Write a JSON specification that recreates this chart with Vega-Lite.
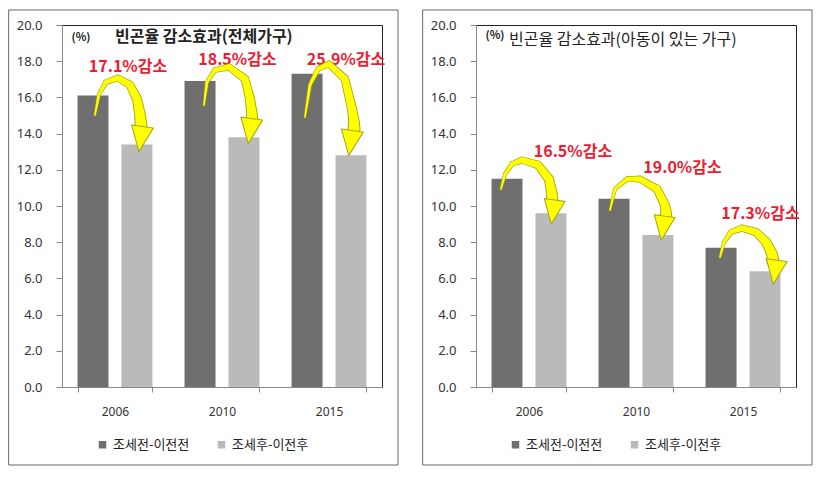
{
  "$schema": "https://vega.github.io/schema/vega-lite/v6.json",
  "padding": {"left": 7, "top": 8, "right": 5, "bottom": 5},
  "background": "white",
  "config": {
    "view": {"stroke": "#222222", "strokeWidth": 1},
    "font": "Noto Sans CJK KR"
  },
  "datasets": {
    "bars": [
      {"panel": "L", "year": "2006", "series": "조세전-이전전", "v": 16.1},
      {"panel": "L", "year": "2006", "series": "조세후-이전후", "v": 13.4},
      {"panel": "L", "year": "2010", "series": "조세전-이전전", "v": 16.9},
      {"panel": "L", "year": "2010", "series": "조세후-이전후", "v": 13.8},
      {"panel": "L", "year": "2015", "series": "조세전-이전전", "v": 17.3},
      {"panel": "L", "year": "2015", "series": "조세후-이전후", "v": 12.8},
      {"panel": "R", "year": "2006", "series": "조세전-이전전", "v": 11.5},
      {"panel": "R", "year": "2006", "series": "조세후-이전후", "v": 9.6},
      {"panel": "R", "year": "2010", "series": "조세전-이전전", "v": 10.4},
      {"panel": "R", "year": "2010", "series": "조세후-이전후", "v": 8.4},
      {"panel": "R", "year": "2015", "series": "조세전-이전전", "v": 7.7},
      {"panel": "R", "year": "2015", "series": "조세후-이전후", "v": 6.4}
    ],
    "arrows": [
      {"panel": "L", "year": "2006", "t": 1, "ax": 0.309, "ay": 15.03},
      {"panel": "L", "year": "2006", "t": 2, "ax": 0.347, "ay": 16.19},
      {"panel": "L", "year": "2006", "t": 3, "ax": 0.4125, "ay": 16.85},
      {"panel": "L", "year": "2006", "t": 4, "ax": 0.525, "ay": 17.07},
      {"panel": "L", "year": "2006", "t": 5, "ax": 0.6375, "ay": 16.69},
      {"panel": "L", "year": "2006", "t": 6, "ax": 0.703, "ay": 15.91},
      {"panel": "L", "year": "2006", "t": 7, "ax": 0.731, "ay": 15.08},
      {"panel": "L", "year": "2006", "t": 8, "ax": 0.741, "ay": 14.42},
      {"panel": "L", "year": "2010", "t": 1, "ax": 1.331, "ay": 15.58},
      {"panel": "L", "year": "2010", "t": 2, "ax": 1.359, "ay": 16.85},
      {"panel": "L", "year": "2010", "t": 3, "ax": 1.434, "ay": 17.51},
      {"panel": "L", "year": "2010", "t": 4, "ax": 1.566, "ay": 17.68},
      {"panel": "L", "year": "2010", "t": 5, "ax": 1.716, "ay": 17.02},
      {"panel": "L", "year": "2010", "t": 6, "ax": 1.7625, "ay": 15.91},
      {"panel": "L", "year": "2010", "t": 7, "ax": 1.781, "ay": 15.08},
      {"panel": "L", "year": "2010", "t": 8, "ax": 1.781, "ay": 14.75},
      {"panel": "L", "year": "2015", "t": 1, "ax": 2.278, "ay": 14.92},
      {"panel": "L", "year": "2015", "t": 2, "ax": 2.325, "ay": 16.69},
      {"panel": "L", "year": "2015", "t": 3, "ax": 2.4, "ay": 17.57},
      {"panel": "L", "year": "2015", "t": 4, "ax": 2.503, "ay": 17.85},
      {"panel": "L", "year": "2015", "t": 5, "ax": 2.653, "ay": 17.02},
      {"panel": "L", "year": "2015", "t": 6, "ax": 2.719, "ay": 15.36},
      {"panel": "L", "year": "2015", "t": 7, "ax": 2.738, "ay": 14.64},
      {"panel": "L", "year": "2015", "t": 8, "ax": 2.738, "ay": 14.25},
      {"panel": "R", "year": "2006", "t": 1, "ax": 0.234, "ay": 10.94},
      {"panel": "R", "year": "2006", "t": 2, "ax": 0.272, "ay": 11.77},
      {"panel": "R", "year": "2006", "t": 3, "ax": 0.3375, "ay": 12.32},
      {"panel": "R", "year": "2006", "t": 4, "ax": 0.431, "ay": 12.54},
      {"panel": "R", "year": "2006", "t": 5, "ax": 0.581, "ay": 12.27},
      {"panel": "R", "year": "2006", "t": 6, "ax": 0.684, "ay": 11.49},
      {"panel": "R", "year": "2006", "t": 7, "ax": 0.7125, "ay": 10.66},
      {"panel": "R", "year": "2006", "t": 8, "ax": 0.7125, "ay": 10.28},
      {"panel": "R", "year": "2010", "t": 1, "ax": 1.256, "ay": 9.78},
      {"panel": "R", "year": "2010", "t": 2, "ax": 1.303, "ay": 10.94},
      {"panel": "R", "year": "2010", "t": 3, "ax": 1.416, "ay": 11.49},
      {"panel": "R", "year": "2010", "t": 4, "ax": 1.5375, "ay": 11.49},
      {"panel": "R", "year": "2010", "t": 5, "ax": 1.697, "ay": 10.94},
      {"panel": "R", "year": "2010", "t": 6, "ax": 1.772, "ay": 10.06},
      {"panel": "R", "year": "2010", "t": 7, "ax": 1.781, "ay": 9.67},
      {"panel": "R", "year": "2010", "t": 8, "ax": 1.781, "ay": 9.34},
      {"panel": "R", "year": "2015", "t": 1, "ax": 2.2875, "ay": 7.18},
      {"panel": "R", "year": "2015", "t": 2, "ax": 2.325, "ay": 8.01},
      {"panel": "R", "year": "2015", "t": 3, "ax": 2.39, "ay": 8.56},
      {"panel": "R", "year": "2015", "t": 4, "ax": 2.494, "ay": 8.78},
      {"panel": "R", "year": "2015", "t": 5, "ax": 2.625, "ay": 8.56},
      {"panel": "R", "year": "2015", "t": 6, "ax": 2.72, "ay": 8.01},
      {"panel": "R", "year": "2015", "t": 7, "ax": 2.775, "ay": 7.35},
      {"panel": "R", "year": "2015", "t": 8, "ax": 2.784, "ay": 6.96}
    ],
    "heads": [
      {"panel": "L", "year": "2006", "ax": 0.738, "ay": 13.7},
      {"panel": "L", "year": "2010", "ax": 1.7625, "ay": 14.14},
      {"panel": "L", "year": "2015", "ax": 2.705, "ay": 13.48},
      {"panel": "R", "year": "2006", "ax": 0.722, "ay": 9.67},
      {"panel": "R", "year": "2010", "ax": 1.753, "ay": 8.78},
      {"panel": "R", "year": "2015", "ax": 2.803, "ay": 6.35}
    ],
    "labels": [
      {"panel": "L", "year": "2006", "label": "17.1%감소", "ax": 0.619, "ay": 17.7},
      {"panel": "L", "year": "2010", "label": "18.5%감소", "ax": 1.645, "ay": 18.05},
      {"panel": "L", "year": "2015", "label": "25.9%감소", "ax": 2.663, "ay": 18.05},
      {"panel": "R", "year": "2006", "label": "16.5%감소", "ax": 0.909, "ay": 12.98},
      {"panel": "R", "year": "2010", "label": "19.0%감소", "ax": 1.936, "ay": 12.1},
      {"panel": "R", "year": "2015", "label": "17.3%감소", "ax": 2.667, "ay": 9.56}
    ]
  },
  "hconcat": [
    {
      "width": 320,
      "height": 362,
      "layer": [
        {
          "data": {"name": "bars"},
          "transform": [{"filter": "datum.panel === 'L'"}],
          "mark": {"type": "bar"},
          "encoding": {
            "x": {"field": "year", "type": "nominal", "scale": {"paddingInner": 0.3, "paddingOuter": 0.145},
              "axis": {"title": null, "labelAngle": 0, "tickBand": "extent", "ticks": true, "tickSize": 5, "tickColor": "#888888", "domainColor": "#888888", "labelPadding": 14, "labelFontSize": 12, "labelColor": "#333333", "labelFont": "Noto Sans"}},
            "xOffset": {"field": "series", "type": "nominal", "scale": {"paddingInner": 0.295, "paddingOuter": 0}},
            "y": {"field": "v", "type": "quantitative", "scale": {"domain": [0, 20], "nice": false},
              "axis": {"title": null, "values": [0, 2, 4, 6, 8, 10, 12, 14, 16, 18, 20], "format": ".1f", "grid": false, "labelOverlap": false, "tickSize": 6, "tickColor": "#888888", "domainColor": "#888888", "labelPadding": 14, "labelFontSize": 13, "labelColor": "#333333", "labelFont": "Noto Sans"}},
            "color": {"field": "series", "type": "nominal",
              "scale": {"domain": ["조세전-이전전", "조세후-이전후"], "range": ["#6f6f6f", "#bababa"]},
              "legend": {"orient": "none", "legendX": 34, "legendY": 413, "direction": "horizontal", "title": null, "symbolType": "square", "symbolSize": 56, "symbolStrokeWidth": 0, "labelFontSize": 13, "labelColor": "#222222", "columnPadding": 25, "labelOffset": 4, "labelFont": "Noto Sans CJK KR"}}
          }
        },
        {
          "layer": [
            {
              "data": {"values": [{}]},
              "mark": {"type": "rect", "fill": "white", "fillOpacity": 0, "stroke": "#666666", "strokeWidth": 1},
              "encoding": {
                "x": {"datum": -0.5, "type": "quantitative", "scale": {"domain": [0, 3], "nice": false}, "axis": null},
                "x2": {"datum": 3.15},
                "y": {"datum": 20.83, "type": "quantitative", "scale": {"domain": [0, 20], "nice": false}, "axis": null},
                "y2": {"datum": -4.31}
              }
            },
            {
              "data": {"name": "labels"},
              "transform": [{"filter": "datum.panel === 'L'"}],
              "mark": {"type": "text", "fontSize": 16, "fontWeight": "bold", "color": "#ee1c33", "baseline": "middle", "align": "center"},
              "encoding": {
                "x": {"field": "ax", "type": "quantitative", "scale": {"domain": [0, 3], "nice": false}, "axis": null},
                "y": {"field": "ay", "type": "quantitative", "scale": {"domain": [0, 20], "nice": false}, "axis": null},
                "text": {"field": "label"}
              }
            },
            {
              "data": {"name": "arrows"},
              "transform": [{"filter": "datum.panel === 'L'"}],
              "mark": {"type": "trail", "color": "#a3a310"},
              "encoding": {
                "x": {"field": "ax", "type": "quantitative", "scale": {"domain": [0, 3], "nice": false}, "axis": null},
                "y": {"field": "ay", "type": "quantitative", "scale": {"domain": [0, 20], "nice": false}, "axis": null},
                "size": {"field": "t", "type": "quantitative", "scale": {"domain": [1, 8], "range": [2.5, 13]}, "legend": null},
                "detail": {"field": "year"},
                "order": {"field": "t"}
              }
            },
            {
              "data": {"name": "arrows"},
              "transform": [{"filter": "datum.panel === 'L'"}],
              "mark": {"type": "trail", "color": "#ffff00"},
              "encoding": {
                "x": {"field": "ax", "type": "quantitative", "scale": {"domain": [0, 3], "nice": false}, "axis": null},
                "y": {"field": "ay", "type": "quantitative", "scale": {"domain": [0, 20], "nice": false}, "axis": null},
                "size": {"field": "t", "type": "quantitative", "scale": {"domain": [1, 8], "range": [1.5, 11]}, "legend": null},
                "detail": {"field": "year"},
                "order": {"field": "t"}
              }
            },
            {
              "data": {"name": "heads"},
              "transform": [{"filter": "datum.panel === 'L'"}],
              "mark": {"type": "point", "shape": "M-1,-1.15L1,-1.15L0,1.15Z", "size": 484, "filled": true, "fill": "#ffff00", "stroke": "#a3a310", "strokeWidth": 1, "opacity": 1, "angle": 8},
              "encoding": {
                "x": {"field": "ax", "type": "quantitative", "scale": {"domain": [0, 3], "nice": false}, "axis": null},
                "y": {"field": "ay", "type": "quantitative", "scale": {"domain": [0, 20], "nice": false}, "axis": null}
              }
            },
            {
              "data": {"values": [{}]},
              "mark": {"type": "text", "text": "(%)", "fontSize": 11, "fontWeight": "bold", "color": "#222222", "align": "center", "baseline": "middle"},
              "encoding": {
                "x": {"datum": 0.178, "type": "quantitative", "scale": {"domain": [0, 3], "nice": false}, "axis": null},
                "y": {"datum": 19.28, "type": "quantitative", "scale": {"domain": [0, 20], "nice": false}, "axis": null}
              }
            },
            {
              "data": {"values": [{}]},
              "mark": {"type": "text", "text": "빈곤율 감소효과(전체가구)", "fontSize": 16, "fontWeight": "bold", "color": "#222222", "align": "left", "baseline": "middle"},
              "encoding": {
                "x": {"datum": 0.497, "type": "quantitative", "scale": {"domain": [0, 3], "nice": false}, "axis": null},
                "y": {"datum": 19.32, "type": "quantitative", "scale": {"domain": [0, 20], "nice": false}, "axis": null}
              }
            }
          ],
          "resolve": {"scale": {"size": "independent"}}
        }
      ],
      "resolve": {"scale": {"x": "independent", "y": "independent"}}
    },
    {
      "width": 320,
      "height": 362,
      "layer": [
        {
          "data": {"name": "bars"},
          "transform": [{"filter": "datum.panel === 'R'"}],
          "mark": {"type": "bar"},
          "encoding": {
            "x": {"field": "year", "type": "nominal", "scale": {"paddingInner": 0.3, "paddingOuter": 0.145},
              "axis": {"title": null, "labelAngle": 0, "tickBand": "extent", "ticks": true, "tickSize": 5, "tickColor": "#888888", "domainColor": "#888888", "labelPadding": 14, "labelFontSize": 12, "labelColor": "#333333", "labelFont": "Noto Sans"}},
            "xOffset": {"field": "series", "type": "nominal", "scale": {"paddingInner": 0.295, "paddingOuter": 0}},
            "y": {"field": "v", "type": "quantitative", "scale": {"domain": [0, 20], "nice": false},
              "axis": {"title": null, "values": [0, 2, 4, 6, 8, 10, 12, 14, 16, 18, 20], "format": ".1f", "grid": false, "labelOverlap": false, "tickSize": 6, "tickColor": "#888888", "domainColor": "#888888", "labelPadding": 14, "labelFontSize": 13, "labelColor": "#333333", "labelFont": "Noto Sans"}},
            "color": {"field": "series", "type": "nominal",
              "scale": {"domain": ["조세전-이전전", "조세후-이전후"], "range": ["#6f6f6f", "#bababa"]},
              "legend": {"orient": "none", "legendX": 33, "legendY": 413, "direction": "horizontal", "title": null, "symbolType": "square", "symbolSize": 56, "symbolStrokeWidth": 0, "labelFontSize": 13, "labelColor": "#222222", "columnPadding": 25, "labelOffset": 4, "labelFont": "Noto Sans CJK KR"}}
          }
        },
        {
          "layer": [
            {
              "data": {"values": [{}]},
              "mark": {"type": "rect", "fill": "white", "fillOpacity": 0, "stroke": "#666666", "strokeWidth": 1},
              "encoding": {
                "x": {"datum": -0.5, "type": "quantitative", "scale": {"domain": [0, 3], "nice": false}, "axis": null},
                "x2": {"datum": 3.15},
                "y": {"datum": 20.83, "type": "quantitative", "scale": {"domain": [0, 20], "nice": false}, "axis": null},
                "y2": {"datum": -4.31}
              }
            },
            {
              "data": {"name": "labels"},
              "transform": [{"filter": "datum.panel === 'R'"}],
              "mark": {"type": "text", "fontSize": 16, "fontWeight": "bold", "color": "#ee1c33", "baseline": "middle", "align": "center"},
              "encoding": {
                "x": {"field": "ax", "type": "quantitative", "scale": {"domain": [0, 3], "nice": false}, "axis": null},
                "y": {"field": "ay", "type": "quantitative", "scale": {"domain": [0, 20], "nice": false}, "axis": null},
                "text": {"field": "label"}
              }
            },
            {
              "data": {"name": "arrows"},
              "transform": [{"filter": "datum.panel === 'R'"}],
              "mark": {"type": "trail", "color": "#a3a310"},
              "encoding": {
                "x": {"field": "ax", "type": "quantitative", "scale": {"domain": [0, 3], "nice": false}, "axis": null},
                "y": {"field": "ay", "type": "quantitative", "scale": {"domain": [0, 20], "nice": false}, "axis": null},
                "size": {"field": "t", "type": "quantitative", "scale": {"domain": [1, 8], "range": [2.5, 13]}, "legend": null},
                "detail": {"field": "year"},
                "order": {"field": "t"}
              }
            },
            {
              "data": {"name": "arrows"},
              "transform": [{"filter": "datum.panel === 'R'"}],
              "mark": {"type": "trail", "color": "#ffff00"},
              "encoding": {
                "x": {"field": "ax", "type": "quantitative", "scale": {"domain": [0, 3], "nice": false}, "axis": null},
                "y": {"field": "ay", "type": "quantitative", "scale": {"domain": [0, 20], "nice": false}, "axis": null},
                "size": {"field": "t", "type": "quantitative", "scale": {"domain": [1, 8], "range": [1.5, 11]}, "legend": null},
                "detail": {"field": "year"},
                "order": {"field": "t"}
              }
            },
            {
              "data": {"name": "heads"},
              "transform": [{"filter": "datum.panel === 'R'"}],
              "mark": {"type": "point", "shape": "M-1,-1.15L1,-1.15L0,1.15Z", "size": 441, "filled": true, "fill": "#ffff00", "stroke": "#a3a310", "strokeWidth": 1, "opacity": 1, "angle": 8},
              "encoding": {
                "x": {"field": "ax", "type": "quantitative", "scale": {"domain": [0, 3], "nice": false}, "axis": null},
                "y": {"field": "ay", "type": "quantitative", "scale": {"domain": [0, 20], "nice": false}, "axis": null}
              }
            },
            {
              "data": {"values": [{}]},
              "mark": {"type": "text", "text": "(%)", "fontSize": 11, "fontWeight": "bold", "color": "#222222", "align": "center", "baseline": "middle"},
              "encoding": {
                "x": {"datum": 0.178, "type": "quantitative", "scale": {"domain": [0, 3], "nice": false}, "axis": null},
                "y": {"datum": 19.39, "type": "quantitative", "scale": {"domain": [0, 20], "nice": false}, "axis": null}
              }
            },
            {
              "data": {"values": [{}]},
              "mark": {"type": "text", "text": "빈곤율 감소효과(아동이 있는 가구)", "fontSize": 16, "fontWeight": "normal", "color": "#222222", "align": "left", "baseline": "middle"},
              "encoding": {
                "x": {"datum": 0.309, "type": "quantitative", "scale": {"domain": [0, 3], "nice": false}, "axis": null},
                "y": {"datum": 19.17, "type": "quantitative", "scale": {"domain": [0, 20], "nice": false}, "axis": null}
              }
            }
          ],
          "resolve": {"scale": {"size": "independent"}}
        }
      ],
      "resolve": {"scale": {"x": "independent", "y": "independent"}}
    }
  ],
  "spacing": 22,
  "resolve": {"scale": {"color": "independent", "x": "independent", "y": "independent"}, "legend": {"color": "independent"}}
}
